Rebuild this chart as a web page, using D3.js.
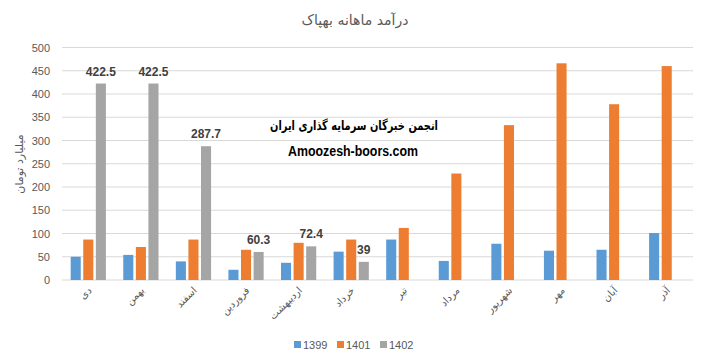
<!DOCTYPE html>
<html><head><meta charset="utf-8">
<script src="https://cdn.jsdelivr.net/npm/d3@7"></script>
<style>
body{margin:0;background:#fff;}
svg{display:block;font-family:"Liberation Sans","DejaVu Sans",sans-serif;}
</style></head>
<body><svg id="c" width="706" height="364"></svg>
<script>
const months = ["دی","بهمن","اسفند","فروردین","اردیبهشت","خرداد","تیر","مرداد","شهریور","مهر","آبان","آذر"];
const seriesNames = ["1399","1401","1402"];
const v1399 = [50,54,40,22,37,61,87,41,78,63,65,101];
const v1401 = [87,71,87,65,80,87,112,229,333,466,378,460];
const v1402 = [422.5,422.5,287.7,60.3,72.4,39,null,null,null,null,null,null];
const yTicks = [0,50,100,150,200,250,300,350,400,450,500];
const colors = ["#5B9BD5","#ED7D31","#A5A5A5"];
const title = "درآمد ماهانه بهپاک";
const yTitle = "میلیارد تومان";
const watermark1 = "انجمن خبرگان سرمایه گذاری ایران";
const watermark2 = "Amoozesh-boors.com";

const svg = d3.select("#c");
const mLeft = 62, mRight = 693, mTop = 47.5, mBottom = 280;
const x0 = d3.scaleBand().domain(months).range([mLeft,mRight]).paddingInner(0.33).paddingOuter(0.165);
const x1 = d3.scaleBand().domain(seriesNames).range([0,x0.bandwidth()]).paddingInner(0.2);
const y = d3.scaleLinear().domain([0,500]).range([mBottom,mTop]);

// gridlines
svg.append("g").selectAll("line").data(yTicks.filter(d=>d>0)).join("line")
  .attr("x1",mLeft).attr("x2",mRight).attr("y1",d=>y(d)).attr("y2",d=>y(d))
  .attr("stroke","#d9d9d9").attr("stroke-width",1);
svg.append("line").attr("x1",mLeft).attr("x2",mRight).attr("y1",y(0)).attr("y2",y(0))
  .attr("stroke","#d9d9d9").attr("stroke-width",1);

// y axis labels
const yAxis = d3.axisLeft(y).tickValues(yTicks).tickSize(0).tickPadding(12);
const ga = svg.append("g").attr("transform",`translate(${mLeft},0)`).call(yAxis);
ga.select(".domain").remove();
ga.selectAll("text").attr("fill","#595959").attr("font-size","11px").attr("font-family","Liberation Sans, sans-serif");

// bars
const data = [v1399,v1401,v1402];
const gBars = svg.append("g");
months.forEach((m,i)=>{
  seriesNames.forEach((s,j)=>{
    const v = data[j][i];
    if(v==null) return;
    gBars.append("rect").attr("x",x0(m)+x1(s)).attr("width",x1.bandwidth())
      .attr("y",y(v)).attr("height",y(0)-y(v)).attr("fill",colors[j]);
  });
});
// data labels for 1402
months.forEach((m,i)=>{
  const v = v1402[i];
  if(v==null) return;
  svg.append("text").attr("x",x0(m)+x1("1402")+x1.bandwidth()/2).attr("y",y(v)-8)
    .attr("text-anchor","middle").attr("font-size","12px").attr("font-weight","bold")
    .attr("fill","#404040").text(v);
});

// x labels
months.forEach(m=>{
  const cx = x0(m)+x0.bandwidth()/2;
  svg.append("text").attr("transform",`translate(${cx+4},${mBottom+11}) rotate(-45)`)
    .attr("text-anchor","end").attr("font-size","10px").attr("fill","#595959")
    .attr("font-family","DejaVu Sans, sans-serif").text(m);
});

// title
svg.append("text").attr("x",355).attr("y",25).attr("text-anchor","middle")
  .attr("font-size","14px").attr("fill","#595959").attr("font-family","DejaVu Sans, sans-serif").text(title);
// y title
svg.append("text").attr("transform","translate(23,164) rotate(-90)").attr("text-anchor","middle")
  .attr("font-size","11px").attr("fill","#595959").attr("font-family","DejaVu Sans, sans-serif").text(yTitle);

// watermark
svg.append("text").attr("x",270).attr("y",130)
  .attr("font-size","13px").attr("font-weight","bold").attr("fill","#000")
  .attr("textLength",168).attr("lengthAdjust","spacingAndGlyphs")
  .attr("font-family","DejaVu Sans, sans-serif").text(watermark1);
svg.append("text").attr("x",288).attr("y",156)
  .attr("font-size","14px").attr("font-weight","bold").attr("fill","#000")
  .attr("textLength",130).attr("lengthAdjust","spacingAndGlyphs")
  .attr("font-family","Liberation Sans, sans-serif").text(watermark2);

// legend
const legX = [294,337,380];
seriesNames.forEach((s,j)=>{
  svg.append("rect").attr("x",legX[j]).attr("y",341).attr("width",7).attr("height",7).attr("fill",colors[j]);
  svg.append("text").attr("x",legX[j]+9).attr("y",348.5).attr("font-size","11px").attr("fill","#595959").text(s);
});
</script></body></html>
